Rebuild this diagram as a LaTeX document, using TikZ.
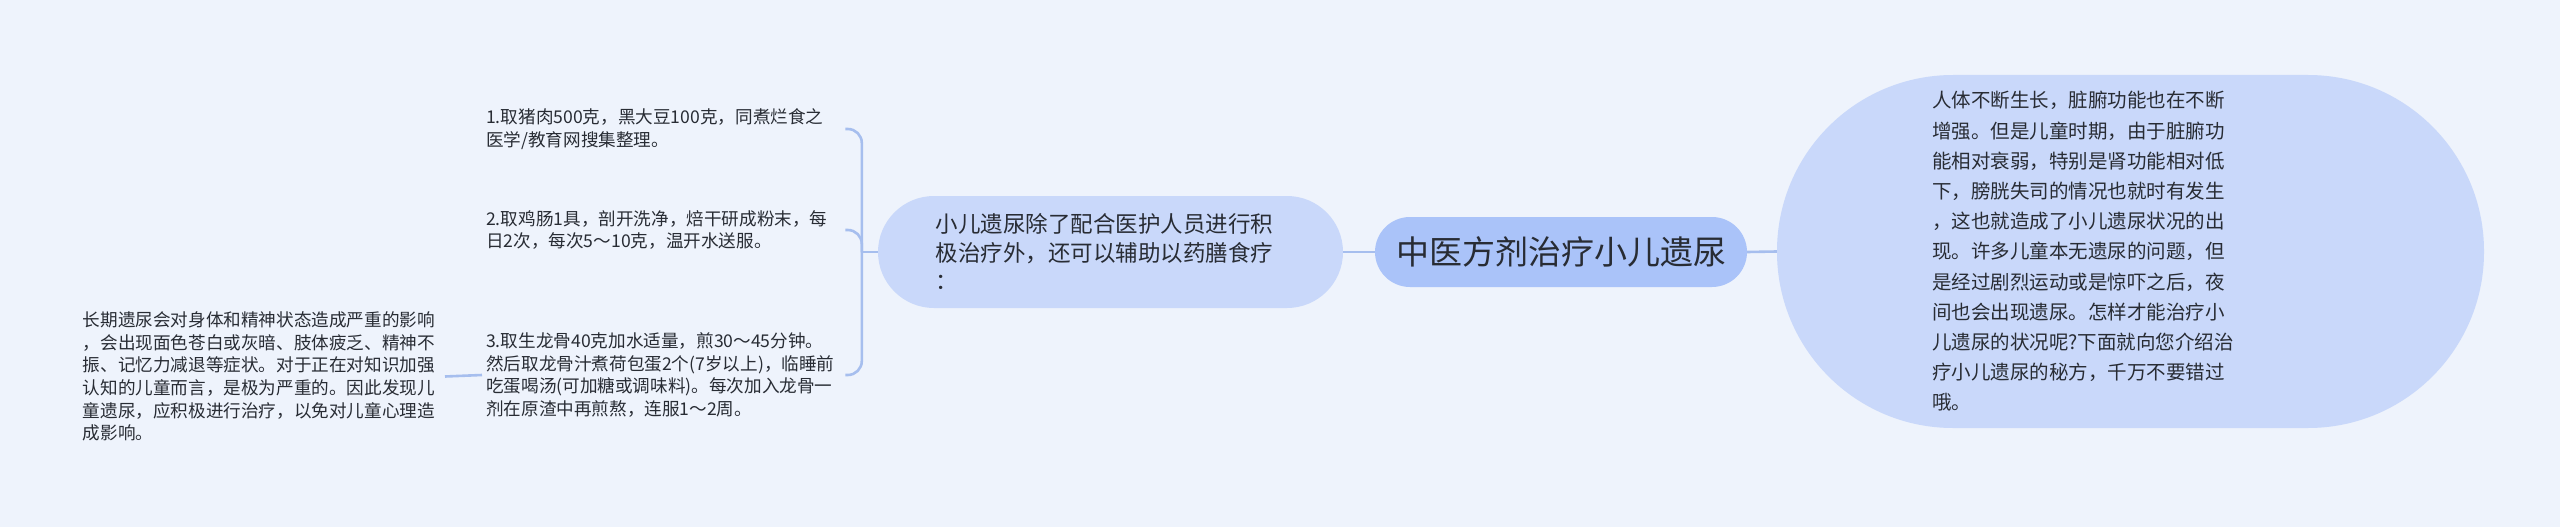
\documentclass[tikz,border=0pt]{standalone}
\usepackage{fontspec}
\setmainfont{Noto Sans CJK SC}
\usepackage{xcolor}
\usepackage{tikz}
\usetikzlibrary{calc}
\definecolor{bgBlue}{RGB}{238,243,252}
\definecolor{rootBlue}{RGB}{170,195,249}
\definecolor{topicBlue}{RGB}{201,216,250}
\definecolor{lineBlue}{RGB}{166,190,238}
\definecolor{textGray}{RGB}{40,44,52}
\tikzstyle{tsText} = [ 
    text=textGray, 
    align=left
]
\tikzstyle{tsPill} = [ 
    tsText, 
    rectangle,
    fill=topicBlue
]
\tikzstyle{tsLeaf} = [ 
    tsText,
    inner xsep=4pt,
    inner ysep=4pt,
    text width=355pt,
    font=\fontsize{17.6}{22.6}\selectfont
]
\tikzstyle{tsLink} = [ 
    draw=lineBlue,
    line width=2.6pt
]

\begin{document}
\begin{tikzpicture}[x=1pt, y=-1pt]

        \fill[bgBlue] (0,0) rectangle (2560,527);
        \useasboundingbox (0,0) rectangle (2560,527);

        \node[  tsPill, 
                fill=rootBlue,
                minimum width=372pt,
                minimum height=70pt,
                rounded corners=35pt,
                font=\fontsize{33}{40}\selectfont] (root) at (1561,252) {中医方剂治疗小儿遗尿};

        \node[  tsPill, 
                minimum width=707pt,
                minimum height=353pt,
                rounded corners=176pt,
                text width=397pt,
                font=\fontsize{19.5}{30.2}\selectfont] (intro) at (2130.5,251.5) {人体不断生长，脏腑功能也在不断\\增强。但是儿童时期，由于脏腑功\\能相对衰弱，特别是肾功能相对低\\下，膀胱失司的情况也就时有发生\\，这也就造成了小儿遗尿状况的出\\现。许多儿童本无遗尿的问题，但\\是经过剧烈运动或是惊吓之后，夜\\间也会出现遗尿。怎样才能治疗小\\儿遗尿的状况呢?下面就向您介绍治\\疗小儿遗尿的秘方，千万不要错过\\哦。};

        \node[  tsPill, 
                minimum width=465pt,
                minimum height=112pt,
                rounded corners=56pt,
                text width=350pt,
                font=\fontsize{22.5}{28.5}\selectfont] (remedy) at (1110.5,252) {小儿遗尿除了配合医护人员进行积\\极治疗外，还可以辅助以药膳食疗\\：};

        \node[tsLeaf, anchor=west] (leaf1) at (482,129) {1.取猪肉500克，黑大豆100克，同煮烂食之\\医学/教育网搜集整理。};
        \node[tsLeaf, anchor=west] (leaf2) at (482,230) {2.取鸡肠1具，剖开洗净，焙干研成粉末，每\\日2次，每次5～10克，温开水送服。};
        \node[tsLeaf, anchor=west] (leaf3) at (482,375) {3.取生龙骨40克加水适量，煎30～45分钟。\\然后取龙骨汁煮荷包蛋2个(7岁以上)，临睡前\\吃蛋喝汤(可加糖或调味料)。每次加入龙骨一\\剂在原渣中再煎熬，连服1～2周。};

        \node[  tsLeaf, 
                anchor=east,
                inner xsep=5pt,
                text width=357pt] (effect) at (445,376.5) {长期遗尿会对身体和精神状态造成严重的影响\\，会出现面色苍白或灰暗、肢体疲乏、精神不\\振、记忆力减退等症状。对于正在对知识加强\\认知的儿童而言，是极为严重的。因此发现儿\\童遗尿，应积极进行治疗，以免对儿童心理造\\成影响。};

        \coordinate (fork) at ($(remedy.west)+(-16,0)$);

        \draw[tsLink] (root.east) -- (intro.west);
        \draw[tsLink] (remedy.east) -- (root.west);
        \draw[tsLink] (remedy.west) -- (fork);
        \draw[tsLink, rounded corners=14pt] (fork) |- (leaf1.east);
        \draw[tsLink, rounded corners=14pt] (fork) |- (leaf2.east);
        \draw[tsLink, rounded corners=14pt] (fork) |- (leaf3.east);
        \draw[tsLink] (leaf3.west) -- (effect.east);

    \end{tikzpicture}
\end{document}
